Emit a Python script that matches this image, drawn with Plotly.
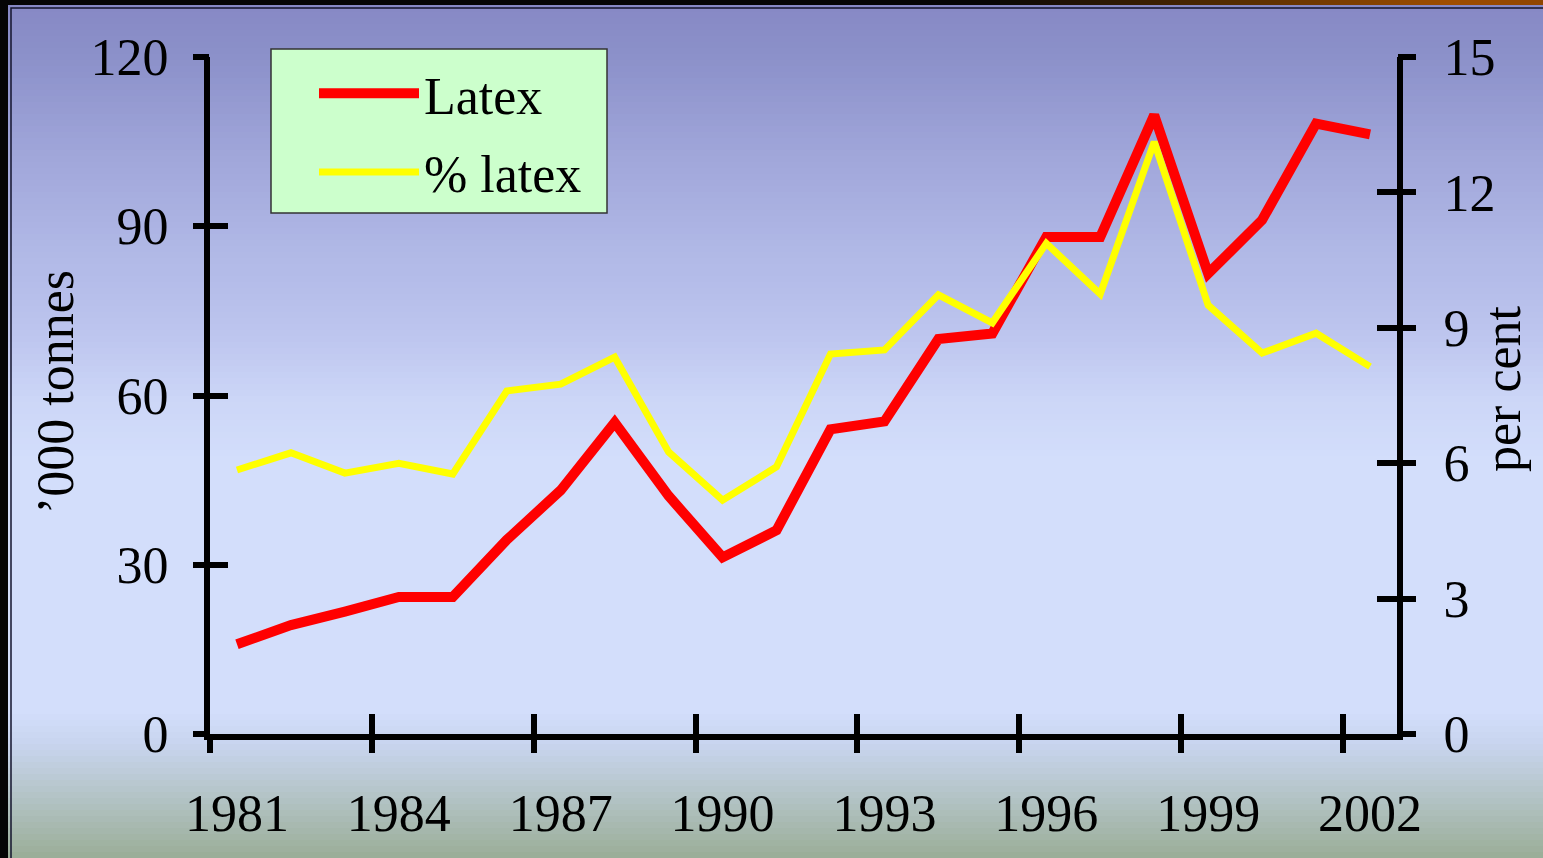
import plotly.graph_objects as go

# ---- data ----
years = list(range(1981, 2003))
latex = [15.9, 19.3, 21.7, 24.3, 24.3, 34.4, 43.2, 55.2, 42.2, 31.3, 36.1,
         54.0, 55.4, 70.0, 71.0, 88.1, 88.1, 109.7, 81.6, 91.1, 108.2, 106.3]
pct_latex = [5.85, 6.23, 5.78, 6.0, 5.76, 7.6, 7.75, 8.35, 6.25, 5.18, 5.92,
             8.42, 8.51, 9.73, 9.11, 10.87, 9.75, 13.12, 9.5, 8.44, 8.88, 8.14]
x_tick_labels = ["1981", "1984", "1987", "1990", "1993", "1996", "1999", "2002"]
x_tick_vals = [1981, 1984, 1987, 1990, 1993, 1996, 1999, 2002]
x_boundaries = [1980.5, 1983.5, 1986.5, 1989.5, 1992.5, 1995.5, 1998.5, 2001.5]
left_ticks = [0, 30, 60, 90, 120]
right_ticks = [0, 3, 6, 9, 12, 15]

W, H = 1543, 858
L, R, T, B = 210, 1397, 57, 734
FONT = "Liberation Serif"
FS = 52


def px(xp):
    return (xp - L) / (R - L)


def py(yp):
    return (B - yp) / (B - T)


def hex2rgb(h):
    h = h.lstrip("#")
    return tuple(int(h[i:i + 2], 16) for i in (0, 2, 4))


def interp(stops, v):
    for (a0, c0), (a1, c1) in zip(stops[:-1], stops[1:]):
        if a0 <= v <= a1:
            t = (v - a0) / (a1 - a0) if a1 > a0 else 0
            a, b = hex2rgb(c0), hex2rgb(c1)
            return "rgb(%d,%d,%d)" % tuple(round(a[i] + (b[i] - a[i]) * t) for i in range(3))
    return stops[-1][1] if v > stops[-1][0] else stops[0][1]


grad_stops = [(0, "#8688C4"), (60, "#8C91CA"), (150, "#9FA5D9"), (250, "#B0B8E6"),
              (330, "#BCC4EE"), (400, "#CCD6F7"), (460, "#D3DEFB"), (712, "#D3DEFB"),
              (745, "#C8D4EE"), (790, "#B6C6CB"), (858, "#9AAD97")]
brown_stops = [(0, "#050505"), (980, "#050505"), (1100, "#2a1703"), (1250, "#5a2f00"),
               (1450, "#A04E00"), (1543, "#8f4500")]

shapes = []
step = 6
for y0 in range(0, H, step):
    shapes.append(dict(type="rect", xref="paper", yref="paper", layer="below",
                       x0=px(-5), x1=px(W + 5), y0=py(y0), y1=py(y0 + step + 1),
                       fillcolor=interp(grad_stops, y0 + step / 2), line=dict(width=0)))
# dark frame: top band (black -> brown) and left strip
bstep = 20
for x0 in range(0, W + bstep, bstep):
    shapes.append(dict(type="rect", xref="paper", yref="paper", layer="below",
                       x0=px(x0), x1=px(x0 + bstep + 1), y0=py(-5), y1=py(5),
                       fillcolor=interp(brown_stops, x0 + bstep / 2), line=dict(width=0)))
shapes.append(dict(type="rect", xref="paper", yref="paper", layer="below",
                   x0=px(-5), x1=px(8), y0=py(-5), y1=py(H + 5),
                   fillcolor="#050505", line=dict(width=0)))
shapes.append(dict(type="rect", xref="paper", yref="paper", layer="below",
                   x0=px(11), x1=px(W + 20), y0=py(8), y1=py(H + 20),
                   fillcolor="rgba(0,0,0,0)", line=dict(width=1.5, color="#15152e")))
# legend box
shapes.append(dict(type="rect", xref="paper", yref="paper", layer="below",
                   x0=px(271), x1=px(607), y0=py(49), y1=py(213),
                   fillcolor="#CCFFCC", line=dict(width=1.5, color="#333333")))

fig = go.Figure()
fig.add_trace(go.Scatter(x=years, y=latex, name="Latex", mode="lines",
                         line=dict(color="#FF0000", width=10), legendgroup="a",
                         xaxis="x", yaxis="y"))
fig.add_trace(go.Scatter(x=years, y=pct_latex, name="% latex", mode="lines",
                         line=dict(color="#FFFF00", width=7), legendgroup="b",
                         xaxis="x", yaxis="y2"))

xr = [1980.5, 2002.5]
tickfont = dict(family=FONT, size=FS, color="black")
common = dict(showgrid=False, zeroline=False, fixedrange=True, automargin=False)

fig.update_layout(
    width=W, height=H,
    margin=dict(l=L, r=W - R, t=T, b=H - B, pad=0, autoexpand=False),
    paper_bgcolor="#D3DEFB", plot_bgcolor="rgba(0,0,0,0)",
    font=dict(family=FONT, size=FS, color="black"),
    showlegend=True,
    shapes=shapes,
    xaxis=dict(range=xr, tickvals=x_tick_vals, ticktext=x_tick_labels, ticks="",
               showline=True, linecolor="black", linewidth=6, tickfont=tickfont,
               ticklabelstandoff=29, anchor="y", **common),
    xaxis2=dict(range=xr, tickvals=x_boundaries, ticks="outside", ticklen=18,
                tickwidth=6, tickcolor="black", showticklabels=False, showline=False,
                overlaying="x", side="bottom", anchor="y", **common),
    xaxis3=dict(range=xr, tickvals=x_boundaries, ticks="inside", ticklen=20,
                tickwidth=6, tickcolor="black", showticklabels=False, showline=False,
                overlaying="x", side="bottom", anchor="y", **common),
    yaxis=dict(range=[0, 120], tickvals=left_ticks, ticks="", showline=True,
               linecolor="black", linewidth=6, tickfont=tickfont,
               ticklabelstandoff=25, anchor="x", **common),
    yaxis3=dict(range=[0, 120], tickvals=left_ticks, ticks="outside", ticklen=16,
                tickwidth=6, tickcolor="black", showticklabels=False, showline=False,
                overlaying="y", side="left", anchor="x", **common),
    yaxis4=dict(range=[0, 120], tickvals=left_ticks, ticks="inside", ticklen=18,
                tickwidth=6, tickcolor="black", showticklabels=False, showline=False,
                overlaying="y", side="left", anchor="x", **common),
    yaxis2=dict(range=[0, 15], tickvals=right_ticks, ticks="", showline=True,
                linecolor="black", linewidth=6, tickfont=tickfont,
                ticklabelstandoff=30, overlaying="y", side="right", anchor="x",
                **common),
    yaxis5=dict(range=[0, 15], tickvals=right_ticks, ticks="outside", ticklen=18,
                tickwidth=6, tickcolor="black", showticklabels=False, showline=False,
                overlaying="y", side="right", anchor="x", **common),
    yaxis6=dict(range=[0, 15], tickvals=right_ticks, ticks="inside", ticklen=20,
                tickwidth=6, tickcolor="black", showticklabels=False, showline=False,
                overlaying="y", side="right", anchor="x", **common),
    legend=dict(x=px(314), y=py(53), xanchor="left", yanchor="top",
                bgcolor="rgba(0,0,0,0)", borderwidth=0,
                font=dict(family=FONT, size=FS, color="black"),
                itemwidth=100, traceorder="grouped", tracegroupgap=8),
    annotations=[
        dict(text="’000 tonnes", xref="paper", yref="paper", x=px(55), y=py(392),
             xanchor="center", yanchor="middle", textangle=-90, showarrow=False,
             font=dict(family=FONT, size=FS, color="black")),
        dict(text="per cent", xref="paper", yref="paper", x=px(1502), y=py(389),
             xanchor="center", yanchor="middle", textangle=-90, showarrow=False,
             font=dict(family=FONT, size=FS, color="black")),
    ],
)

# invisible traces so the overlay tick axes are drawn
for xa, ya in [("x2", "y"), ("x3", "y"), ("x", "y3"), ("x", "y4"), ("x", "y5"), ("x", "y6")]:
    fig.add_trace(go.Scatter(x=[], y=[], xaxis=xa, yaxis=ya, showlegend=False,
                             hoverinfo="skip"))

fig.write_html("out.html", config={"displayModeBar": False, "staticPlot": True},
               post_script="document.body.style.margin='0';document.body.style.overflow='hidden';"
                           "document.body.style.background='#9AAD97';")
